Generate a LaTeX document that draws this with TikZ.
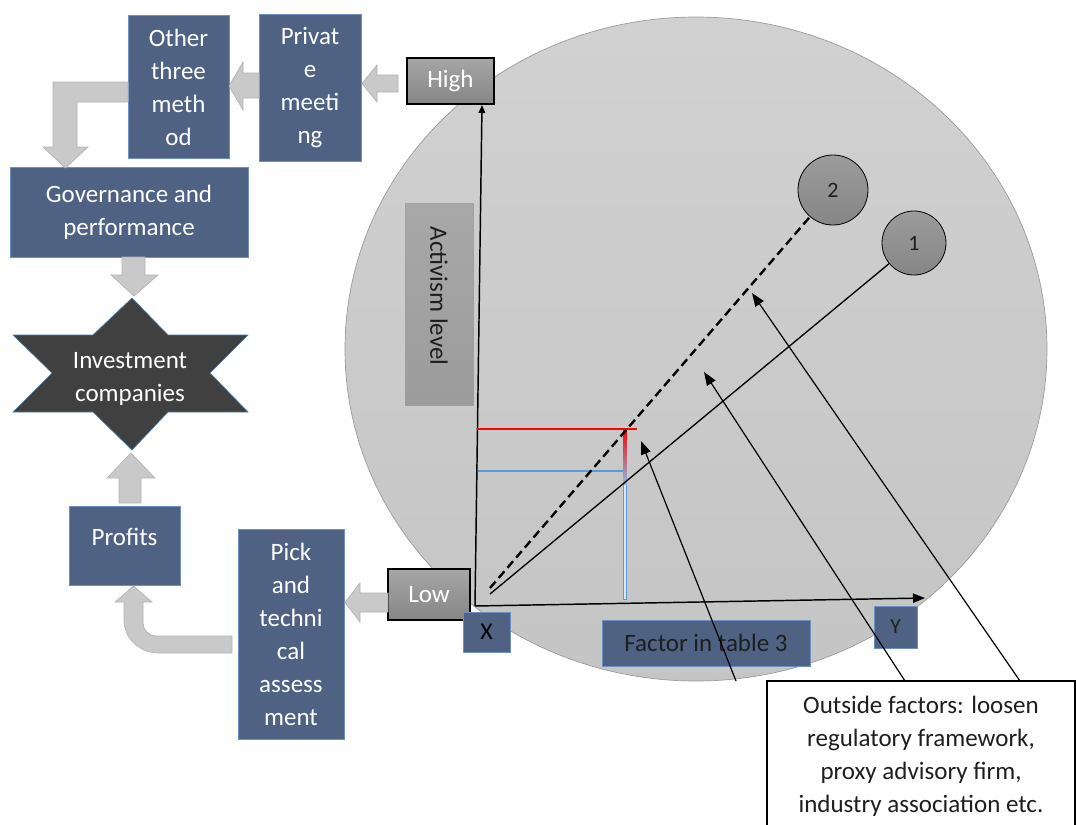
\documentclass[tikz,border=0pt]{standalone}
\usepackage{fontspec}
\setmainfont{Carlito}
\usetikzlibrary{arrows.meta,shapes.geometric}
\definecolor{boxblue}{HTML}{4F6283}
\definecolor{boxedge}{HTML}{6F90C0}
\definecolor{arrgray}{HTML}{C9C9C9}
\definecolor{arredge}{HTML}{B3B3B3}
\definecolor{lblue}{HTML}{5B9BD5}
\definecolor{darktxt}{HTML}{1E1E1E}
\newcommand\bigtxt{\fontsize{18.75}{24.75}\selectfont}
\tikzset{
  wh/.style 2 args={minimum width=#1*0.75pt, minimum height=#2*0.75pt},
  bluebox/.style={draw=boxedge, line width=0.5pt, fill=boxblue, text=white, inner sep=0pt, align=center, font=\bigtxt},
  darkbox/.style={bluebox, text=darktxt},
  graybox/.style={draw=black, line width=1.1pt, top color=gray!70, bottom color=gray!105!black, text=white, inner sep=0pt, font=\bigtxt},
  blockarrow/.style={fill=arrgray, draw=arredge, line width=0.5pt},
  circ/.style={circle, draw=black, line width=0.6pt, top color=gray!78, bottom color=gray!100!black!95, text=darktxt, inner sep=0pt, font=\fontsize{16.5}{19}\selectfont},
  outarrow/.style={draw=black, line width=0.9pt, -{Triangle[length=10pt,width=7.5pt]}},
  axis/.style={draw=black, line width=1.1pt},
}
\begin{document}
\begin{tikzpicture}[x=0.75pt,y=-0.75pt]
\useasboundingbox (0,0) rectangle (1076,825);
% big ellipse
\path[draw=gray!80, line width=0.5pt, top color=gray!36, bottom color=gray!46] (696,349) ellipse [x radius=263.25pt, y radius=249pt];
% activism level box
\node[draw=gray!75, line width=0.5pt, top color=gray!68, bottom color=gray!78, wh={68}{202}, inner sep=0pt] (actbox) at (439,304) {};
\node[rotate=-90, text=darktxt, font=\bigtxt] (act) at (439,296) {Activism level};
% coordinates
\coordinate (O) at (475,606);
\coordinate (vt) at (482,105);
\coordinate (ht) at (925,598);
\coordinate (s1) at (490,594);
\coordinate (s2) at (490,588);
% axes
\draw[axis, -{Triangle[length=6pt,width=5pt]}] (O) -- (vt);
\draw[axis, -{Triangle[length=9pt,width=7pt]}] (O) -- (ht);
% red / blue guide lines
\draw[lblue, line width=0.8pt] (478,471) -- (624,471);
\draw[lblue, line width=2.6pt] (625,470) -- (625,600);
\draw[blue!12, line width=0.9pt] (625,473) -- (625,599);
\shade[top color=red, bottom color=lblue!70] (623.2,429) rectangle (626.8,484);
\draw[red, line width=1.2pt] (477,429) -- (637,429);
% circles and lines
\node[circ, minimum size=52.5pt] (c2) at (833,190) {2};
\node[circ, minimum size=48pt] (c1) at (914,243) {1};
\draw[black, line width=1.8pt, dash pattern=on 6.5pt off 3.5pt] (s2) -- (c2);
\draw[black, line width=1pt] (s1) -- (c1);
% axis labels
\node[graybox, wh={87}{46}] (high) at (450.5,81) {High};
\node[graybox, wh={82}{51}] (low) at (429,594.5) {Low};
\node[darkbox, wh={47}{40}, text=black, font=\fontsize{18}{20}\selectfont] (xlab) at (486.5,632) {X};
\node[darkbox, wh={43}{42}, font=\fontsize{16}{18}\selectfont] (ylab) at (895.5,627) {Y};
\node[darkbox, wh={208}{46}] (factor) at (706,643) {Factor in table 3};
% outside factors box
\draw[black, line width=0.8pt] (767,830) -- (767,681) -- (1075,681) -- (1075,830);
\node[align=center, text=darktxt, font=\bigtxt] (outside) at (921,756) {Outside factors: loosen\\regulatory framework,\\proxy advisory firm,\\industry association etc.};
\coordinate (a1s) at (736,681);
\coordinate (a1e) at (641,441);
\coordinate (a2s) at (905,681);
\coordinate (a2e) at (704,372);
\coordinate (a3s) at (1020,681);
\coordinate (a3e) at (752,293);
\draw[outarrow] (a1s) -- (a1e);
\draw[outarrow] (a2s) -- (a2e);
\draw[outarrow] (a3s) -- (a3e);
% left flow boxes
\node[bluebox, wh={101}{143}] (other) at (178.5,87) {Other\\three\\meth\\od};
\node[bluebox, wh={102}{147}] (private) at (310,88) {Privat\\e\\meeti\\ng};
\node[bluebox, wh={238}{90}] (gov) at (129,212) {Governance and\\performance};
\node[bluebox, wh={111}{79}] (profits) at (124.5,545.5) {};
\node[text=white, font=\bigtxt] (proftxt) at (124.5,537) {Profits};
\node[bluebox, wh={106}{210}] (pick) at (291,634) {Pick\\and\\techni\\cal\\assess\\ment};
% star
\path[fill=black!75, draw=lblue!80!black, line width=0.5pt] (132,298) -- (168,335) -- (248,335) -- (210,373) -- (248,412) -- (168,412) -- (132,450) -- (93,412) -- (13,412) -- (52,373) -- (13,335) -- (93,335) -- cycle;
\node[align=center, text=white, font=\bigtxt] (invest) at (130,379) {Investment\\companies};
% block arrows
\path[blockarrow] (398,75) -- (377,75) -- (377,65) -- (362,83.5) -- (377,102) -- (377,92) -- (398,92) -- cycle;
\path[blockarrow] (259,73) -- (243,73) -- (243,62) -- (229,86) -- (243,110) -- (243,98) -- (259,98) -- cycle;
\path[blockarrow] (128,82) -- (53,82) -- (53,147) -- (43,147) -- (65.5,168) -- (88,147) -- (77,147) -- (77,102) -- (128,102) -- cycle;
\path[blockarrow] (122,257) -- (145,257) -- (145,275) -- (158,275) -- (134,296) -- (111,275) -- (122,275) -- cycle;
\path[blockarrow] (119,503) -- (119,478) -- (107,478) -- (131,453) -- (155,478) -- (141,478) -- (141,503) -- cycle;
\path[blockarrow] (388,593) -- (360,593) -- (360,583) -- (345,602.5) -- (360,622) -- (360,612) -- (388,612) -- cycle;
\path[blockarrow] (232,636) -- (156,636) .. controls (149,636) and (143,630) .. (143,623) -- (143,602) -- (152,602) -- (133.5,586) -- (115,602) -- (124,602) -- (124,620) .. controls (124,639) and (140,653) .. (159,653) -- (232,653) -- cycle;
\end{tikzpicture}
\end{document}
